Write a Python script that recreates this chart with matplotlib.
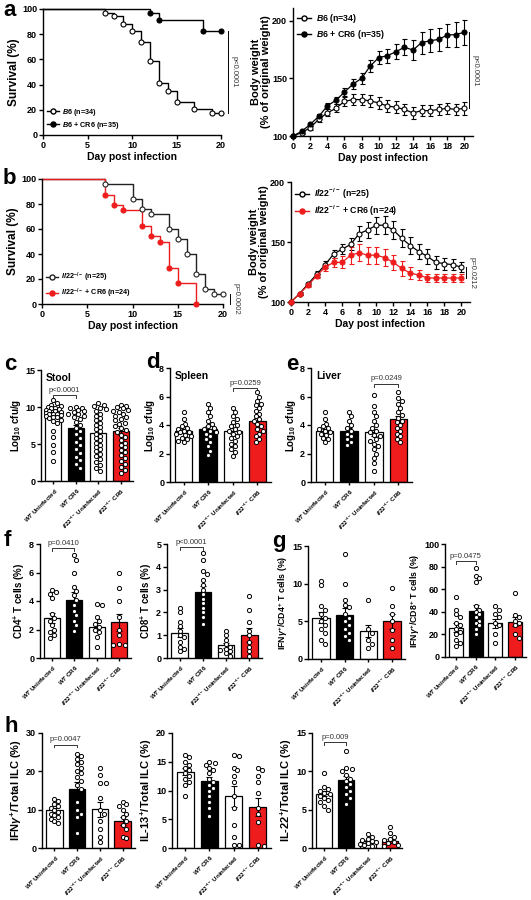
import numpy as np
import matplotlib
matplotlib.use('Agg')
import matplotlib.pyplot as plt
from matplotlib.lines import Line2D

plt.rcParams.update({
    'font.family': ['Liberation Sans', 'DejaVu Sans'],
    'font.weight': 'bold',
    'axes.labelweight': 'bold',
    'mathtext.fontset': 'custom',
    'mathtext.rm': 'Liberation Sans:bold',
    'mathtext.it': 'Liberation Sans:italic:bold',
    'mathtext.bf': 'Liberation Sans:bold',
    'mathtext.sf': 'Liberation Sans:bold',
    'axes.linewidth': 1.0,
    'xtick.major.width': 1.0, 'ytick.major.width': 1.0,
    'xtick.major.size': 3, 'ytick.major.size': 3,
    'xtick.labelsize': 6.5, 'ytick.labelsize': 6.5,
    'xtick.major.pad': 1.5, 'ytick.major.pad': 1.2,
    'axes.labelpad': 1.5,
})

# ---------------- data ----------------
# a: survival
surv_a_b6_days = [0, 7, 8, 9, 10, 11, 12, 13, 14, 15, 17, 19, 20]
surv_a_b6 = [100, 97.1, 94.1, 88.2, 82.4, 73.5, 58.8, 41.2, 35.3, 26.5, 20.6, 17.6, 17.6]
surv_a_cr6_days = [0, 12, 13, 18, 20]
surv_a_cr6 = [100, 97.1, 91.4, 82.9, 82.9]
# a: body weight
days = list(range(21))
bw_a_b6 = [100, 103, 107, 114.5, 120, 124, 130, 131.6, 131.6, 130.4, 128.7, 126, 125, 123, 120, 122, 122, 123, 124, 123, 124]
bw_a_b6_sem = [0, 1, 1.5, 2, 3, 3.5, 4, 4.5, 5, 5, 5, 5, 5, 5, 5, 5, 5, 5, 5, 5, 5.5]
bw_a_cr6 = [100, 104, 110, 117, 126, 131, 138, 145, 150, 160.6, 168, 169.6, 173, 177, 174.5, 181, 182.6, 183.8, 187.5, 188, 190]
bw_a_cr6_sem = [0, 1, 1.5, 2, 2.5, 3, 3.5, 4, 5, 5, 5.5, 6, 6.5, 7, 9, 9.5, 10, 10, 10, 11, 11]
# b: survival
surv_b_il_days = [0, 7, 10, 11, 12, 14, 15, 16, 17, 18, 19, 20]
surv_b_il = [100, 96, 84, 76, 72, 60, 52, 40, 24, 12, 8, 8]
surv_b_cr6_days = [0, 7, 8, 9, 11, 12, 13, 14, 15, 17]
surv_b_cr6 = [100, 87.5, 79.2, 75, 62.5, 54.2, 50, 29.2, 16.7, 0]
# b: body weight
bw_b_il = [100, 107, 115, 123, 131, 140, 144, 148, 157, 160, 164, 164, 160, 153, 147, 142, 138, 133, 132, 131, 129]
bw_b_il_sem = [0, 1, 1.5, 2.5, 3, 3.5, 4, 5, 6, 6.5, 7, 7.5, 7.5, 7.5, 7, 6.5, 6, 5.5, 5, 4.5, 4]
bw_b_cr6 = [100, 106.7, 114, 121.7, 129, 133, 133, 139, 141, 139, 139, 137, 133, 128, 124, 122.5, 120, 120, 120, 120, 120]
bw_b_cr6_sem = [0, 1, 1.5, 2, 3, 4, 5, 7, 7, 7, 7, 7, 6.5, 6, 5, 4, 3, 3, 3, 3, 3]

groups = [r'$\it{WT}$ Uninfected', r'$\it{WT}$ CR6',
          r'$\it{Il22}^{-/-}$ Uninfected', r'$\it{Il22}^{-/-}$ CR6']

c_means = [9.0, 7.1, 6.5, 6.7]; c_sems = [0.3, 0.45, 0.45, 0.45]
c_pts = [[11.0, 10.5, 10.3, 10.1, 10.0, 9.9, 9.8, 9.7, 9.6, 9.5, 9.4, 9.3, 9.2, 9.1, 9.0, 9.0, 8.9, 8.8, 8.7, 8.6, 8.5, 8.3, 8.1, 7.8, 6.8, 5.9, 4.9, 3.9, 2.7],
         [10.0, 9.9, 9.8, 9.6, 9.4, 9.3, 9.1, 9.0, 8.8, 8.6, 8.4, 8.0, 7.6, 7.2, 6.8, 6.3, 5.8, 5.3, 4.8, 4.3, 3.8, 3.3, 2.8, 2.3, 1.8],
         [10.5, 10.3, 10.1, 9.9, 9.7, 9.4, 9.1, 8.8, 8.5, 8.2, 7.9, 7.6, 7.3, 7.0, 6.7, 6.4, 6.1, 5.8, 5.5, 5.2, 4.9, 4.6, 4.3, 4.0, 3.7, 3.4, 3.0, 2.6, 2.2, 1.8, 1.4],
         [10.3, 10.2, 10.0, 9.8, 9.6, 9.5, 9.3, 9.0, 8.8, 8.7, 8.4, 8.2, 7.9, 7.7, 7.4, 7.1, 6.9, 6.6, 6.2, 5.9, 5.5, 5.2, 4.9, 4.6, 4.2, 3.9, 3.5, 3.1, 2.7, 2.3, 1.9, 1.5, 1.1]]
d_means = [3.6, 3.7, 3.6, 4.3]; d_sems = [0.15, 0.2, 0.2, 0.2]
d_pts = [[4.9, 4.4, 4.1, 3.9, 3.8, 3.7, 3.6, 3.5, 3.5, 3.4, 3.3, 3.2, 3.1, 3.0, 2.9, 2.8],
         [5.5, 5.2, 4.9, 4.6, 4.3, 4.1, 3.9, 3.8, 3.7, 3.6, 3.5, 3.4, 3.2, 3.0, 2.8, 2.5, 2.2, 1.9],
         [5.2, 4.9, 4.6, 4.4, 4.2, 4.0, 3.9, 3.7, 3.6, 3.5, 3.4, 3.2, 3.1, 2.9, 2.7, 2.5, 2.3, 2.1, 1.8],
         [6.3, 6.0, 5.7, 5.5, 5.4, 5.2, 5.0, 4.8, 4.6, 4.4, 4.3, 4.1, 3.9, 3.7, 3.6, 3.4, 3.2, 3.0, 2.8]]
e_means = [3.6, 3.6, 3.5, 4.4]; e_sems = [0.15, 0.2, 0.25, 0.2]
e_pts = [[4.9, 4.4, 4.1, 3.9, 3.8, 3.7, 3.6, 3.5, 3.4, 3.3, 3.1, 3.0, 2.8],
         [4.9, 4.6, 4.3, 4.0, 3.8, 3.6, 3.4, 3.2, 3.0, 2.8, 2.6],
         [6.1, 5.3, 4.9, 4.6, 4.3, 4.0, 3.8, 3.6, 3.5, 3.3, 3.2, 3.0, 2.9, 2.7, 2.5, 2.3, 2.0, 1.7, 1.3, 0.8],
         [6.3, 5.9, 5.7, 5.5, 5.2, 4.9, 4.7, 4.5, 4.3, 4.2, 4.0, 3.8, 3.6, 3.4, 3.2, 3.0, 2.8]]
f1_means = [2.8, 4.1, 2.2, 2.5]; f1_sems = [0.35, 0.5, 0.28, 0.6]
f1_pts = [[4.8, 4.6, 4.5, 4.2, 3.1, 2.8, 2.6, 2.3, 2.0, 1.8, 1.6, 1.4],
          [7.2, 6.9, 6.0, 5.0, 4.7, 4.4, 4.1, 3.7, 3.3, 3.0, 2.6, 2.3, 1.9],
          [3.8, 3.7, 2.9, 2.6, 2.4, 2.2, 2.0, 1.8, 1.5, 0.8],
          [6.0, 4.9, 4.0, 2.9, 2.0, 1.6, 1.0, 0.9, 0.9]]
f2_means = [1.1, 2.9, 0.55, 1.0]; f2_sems = [0.2, 0.25, 0.12, 0.3]
f2_pts = [[2.2, 2.0, 1.6, 1.4, 1.2, 1.0, 0.9, 0.7, 0.5, 0.4, 0.3],
          [4.6, 4.3, 3.8, 3.7, 3.4, 3.2, 3.0, 2.8, 2.6, 2.4, 2.2, 2.0, 1.8, 1.5],
          [1.2, 1.0, 0.8, 0.6, 0.5, 0.4, 0.35, 0.3, 0.2, 0.1],
          [2.7, 2.1, 1.6, 1.2, 1.0, 0.7, 0.5, 0.3, 0.1]]
g1_means = [5.5, 5.9, 3.7, 5.0]; g1_sems = [0.7, 0.9, 0.8, 1.0]
g1_pts = [[10.4, 9.8, 7.0, 6.5, 6.0, 5.5, 5.0, 4.5, 4.0, 3.5, 2.5, 2.0],
          [14.0, 10.0, 7.8, 7.2, 6.9, 6.0, 5.5, 5.0, 4.5, 4.0, 3.5, 3.0, 2.5],
          [7.8, 4.0, 3.5, 2.5, 2.0, 1.5],
          [9.4, 7.0, 6.0, 5.0, 3.8, 2.5, 1.5]]
g2_means = [26, 41, 30, 31]; g2_sems = [4, 5, 4, 4]
g2_pts = [[53, 42, 38, 35, 30, 28, 25, 22, 20, 15, 12, 10],
          [79, 72, 70, 66, 45, 42, 40, 38, 35, 32, 30, 28, 25, 20],
          [45, 42, 38, 35, 30, 28, 20, 12],
          [57, 37, 35, 32, 30, 28, 20, 17]]
h1_means = [9.8, 15.4, 10.1, 7.0]; h1_sems = [0.7, 1.8, 2.0, 1.1]
h1_pts = [[12.8, 12.2, 11.5, 11.0, 10.5, 10.0, 9.5, 9.0, 8.5, 8.0, 7.5, 7.0, 6.5],
          [24.5, 24.0, 23.2, 22.5, 22.0, 21.0, 20.0, 19.5, 18.5, 17.5, 16.5, 15.5, 12.0, 10.0, 9.0, 8.0, 4.0],
          [21.0, 19.0, 17.0, 17.0, 13.0, 10.0, 9.0, 7.0, 5.0, 3.0, 1.5],
          [12.0, 11.5, 11.0, 10.0, 9.0, 8.0, 7.0, 6.0, 5.0, 3.0, 2.5]]
h2_means = [13.3, 11.7, 9.0, 7.1]; h2_sems = [0.6, 0.7, 1.8, 1.6]
h2_pts = [[16.2, 15.8, 15.0, 14.5, 14.0, 13.5, 13.0, 12.5, 12.0, 11.5, 11.0, 9.0],
          [15.0, 14.8, 14.5, 14.0, 13.5, 13.0, 12.0, 11.5, 11.0, 10.5, 10.0, 9.0, 8.0, 7.0, 5.5],
          [16.2, 16.0, 14.0, 13.5, 12.5, 11.5, 9.0, 7.0, 4.0, 2.0, 0.5, 0.5],
          [14.0, 13.5, 12.5, 11.5, 9.5, 7.0, 6.0, 4.5, 0.5, 0.3]]
h3_means = [7.1, 8.9, 0.9, 0.9]; h3_sems = [0.35, 0.5, 0.15, 0.25]
h3_pts = [[9.8, 8.0, 7.7, 7.5, 7.2, 7.0, 6.8, 6.5, 6.2, 6.0, 5.5, 5.0],
          [12.7, 10.5, 10.3, 10.0, 9.5, 9.0, 8.7, 8.3, 8.0, 7.5, 7.0, 6.5, 5.8],
          [1.8, 1.5, 1.2, 1.0, 0.9, 0.8, 0.6, 0.5, 0.4, 0.3],
          [2.7, 2.0, 1.5, 1.2, 1.0, 0.8, 0.6, 0.4, 0.3]]

RED = '#ee1c1c'
bar_colors = ['white', 'black', 'white', RED]

# ---------------- figure ----------------
W, H = 531, 900
fig = plt.figure(figsize=(W / 100, H / 100), dpi=100)


def px_axes(l, t, r, b):
    ax = fig.add_axes([l / W, 1 - b / H, (r - l) / W, (b - t) / H])
    ax.spines['top'].set_visible(False)
    ax.spines['right'].set_visible(False)
    return ax


def letter(x, y, s):
    fig.text(x / W, 1 - y / H, s, fontsize=16, fontweight='bold', va='center', ha='left')


def ptext(ax, x, y, s, **kw):
    ax.text(x, y, s, fontsize=5.5, fontweight='normal', color='#333333', clip_on=False, **kw)


def survival(ax, d1, s1, c1, mf1, d2, s2, c2, mf2, labels, pstr, py):
    for d, s, c, mf in ((d1, s1, c1, mf1), (d2, s2, c2, mf2)):
        ax.step(d, s, where='post', color=c, lw=1.0, clip_on=False, zorder=2)
        ax.plot(d[1:], s[1:], 'o', ms=3.6, mfc=mf, mec=c, mew=0.8, clip_on=False, zorder=3)
    ax.set_xlim(0, 20)
    ax.set_ylim(0, 100)
    ax.set_xticks([0, 5, 10, 15, 20])
    ax.set_yticks([0, 20, 40, 60, 80, 100])
    ax.set_xlabel('Day post infection', fontsize=7.5)
    ax.set_ylabel('Survival (%)', fontsize=8.5)
    hs = [Line2D([], [], color=c1, marker='o', mfc=mf1, mec=c1, ms=3.6, lw=1.0),
          Line2D([], [], color=c2, marker='o', mfc=mf2, mec=c2, ms=3.6, lw=1.0)]
    ax.legend(hs, labels, loc='lower left', fontsize=5.2, frameon=False, handlelength=1.6,
              handletextpad=0.5, borderaxespad=0.2, labelspacing=0.3)
    ax.plot([20.8, 20.8], py, color='black', lw=0.7, clip_on=False)
    ptext(ax, 21.1, np.mean(py), pstr, rotation=-90, va='center', ha='left')


def weight(ax, m1, e1, c1, mf1, m2, e2, c2, mf2, labels, ylim, pstr, py):
    for m, e, c, mf in ((m1, e1, c1, mf1), (m2, e2, c2, mf2)):
        ax.errorbar(days, m, yerr=e, color=c, lw=0.9, elinewidth=0.8, capsize=1.8, capthick=0.8,
                    marker='o', ms=3.6, mfc=mf, mec=c, mew=0.8, clip_on=False, zorder=3)
    ax.set_xlim(0, 21)
    ax.set_ylim(*ylim)
    ax.set_xticks(range(0, 21, 2))
    ax.set_yticks([100, 150, 200])
    ax.set_xlabel('Day post infection', fontsize=7.5)
    ax.set_ylabel('Body weight\n(% of original weight)', fontsize=8, linespacing=1.0, labelpad=0.5)
    hs = [Line2D([], [], color=c1, marker='o', mfc=mf1, mec=c1, ms=3.6, lw=1.0),
          Line2D([], [], color=c2, marker='o', mfc=mf2, mec=c2, ms=3.6, lw=1.0)]
    ax.legend(hs, labels, loc='upper left', fontsize=6.3, frameon=False, handlelength=1.6,
              handletextpad=0.5, borderaxespad=0.1, labelspacing=0.3)
    ax.plot([20.5, 20.5], py, color='black', lw=0.7, clip_on=False)
    ptext(ax, 20.8, np.mean(py), pstr, rotation=-90, va='center', ha='left')


def swarm(ax, x0, ys, d_px, maxw_px):
    placed = []
    xs = []
    inv = ax.transData.inverted()
    for y in ys:
        cx, cy = ax.transData.transform((x0, y))
        best, bestd = cx, -1
        for k in range(0, 60):
            off = ((k + 1) // 2) * 0.45 * d_px * (1 if k % 2 else -1)
            if abs(off) > maxw_px:
                continue
            cand = cx + off
            md = min([np.hypot(cand - qx, cy - qy) for qx, qy in placed] + [1e9])
            if md >= d_px:
                best, bestd = cand, md
                break
            if md > bestd:
                best, bestd = cand, md
        placed.append((best, cy))
        xs.append(inv.transform((best, cy))[0])
    return xs


def bars(ax, means, sems, pts, ylim, yticks, ylabel, pos=(0, 1, 2, 3), xlim=(-0.55, 3.55),
         title=None, pval=None, ylfs=7, width=0.72):
    ax.set_xlim(*xlim)
    ax.set_ylim(*ylim)
    for i, p in enumerate(pos):
        ax.bar(p, means[i], width=width, color=bar_colors[i], edgecolor='black', lw=0.9, zorder=1)
    for i, p in enumerate(pos):
        ax.errorbar(p, means[i], yerr=sems[i], color='black', lw=0.8, capsize=2.2, capthick=0.8, zorder=2)
    for i, p in enumerate(pos):
        xs = swarm(ax, p, pts[i], 4.3, 9.5)
        ax.scatter(xs, pts[i], s=9, facecolor='white', edgecolor='black', lw=0.7, zorder=3, clip_on=False)
    ax.set_yticks(yticks)
    ax.set_xticks(pos)
    ax.set_xticklabels(groups, rotation=45, ha='right', rotation_mode='anchor', fontsize=4.4)
    ax.tick_params(axis='x', length=2.5, pad=1.5)
    ax.set_ylabel(ylabel, fontsize=ylfs)
    if title:
        ax.text(0.05, 0.97, title, transform=ax.transAxes, fontsize=7.5, fontweight='bold', va='top')
    if pval:
        (a, b), y, s = pval
        dy = (ylim[1] - ylim[0]) * 0.025
        ax.plot([pos[a], pos[a], pos[b], pos[b]], [y - dy, y, y, y - dy], color='#333333', lw=0.7, clip_on=False)
        ptext(ax, (pos[a] + pos[b]) / 2, y + dy * 0.5, s, ha='center', va='bottom')


# a
axa1 = px_axes(43, 9, 221, 135)
survival(axa1, surv_a_b6_days, surv_a_b6, 'black', 'white', surv_a_cr6_days, surv_a_cr6, 'black', 'black',
         [r'$\it{B6}$ (n=34)', r'$\it{B6}$ + CR6 (n=35)'], 'p<0.0001', [82.9, 17.6])
axa2 = px_axes(293, 8, 473, 136)
weight(axa2, bw_a_b6, bw_a_b6_sem, 'black', 'white', bw_a_cr6, bw_a_cr6_sem, 'black', 'black',
       [r'$\it{B6}$ (n=34)', r'$\it{B6}$ + CR6 (n=35)'], (100, 211), 'p<0.0001', [190, 124])
# b
axb1 = px_axes(42, 179, 223, 304)
survival(axb1, surv_b_il_days, surv_b_il, '#222222', 'white', surv_b_cr6_days, surv_b_cr6, RED, RED,
         [r'$\it{Il22}^{-/-}$ (n=25)', r'$\it{Il22}^{-/-}$ + CR6 (n=24)'], 'p=0.0002', [8, 0])
axb2 = px_axes(291, 182, 470, 302)
weight(axb2, bw_b_il, bw_b_il_sem, 'black', 'white', bw_b_cr6, bw_b_cr6_sem, RED, RED,
       [r'$\it{Il22}^{-/-}$ (n=25)', r'$\it{Il22}^{-/-}$ + CR6 (n=24)'], (100, 200), 'p=0.0212', [129, 120])

# c d e
axc = px_axes(41, 370, 133, 481)
bars(axc, c_means, c_sems, c_pts, (0, 15), [0, 5, 10, 15], r'Log$_{10}$ cfu/g', title='Stool',
     pval=((0, 1), 11.6, 'p<0.0001'))
axd = px_axes(170, 368, 271, 482)
bars(axd, d_means, d_sems, d_pts, (0, 8), [0, 2, 4, 6, 8], r'Log$_{10}$ cfu/g', title='Spleen',
     pval=((2, 3), 6.6, 'p=0.0259'))
axe = px_axes(311, 368, 412, 482)
bars(axe, e_means, e_sems, e_pts, (0, 8), [0, 2, 4, 6, 8], r'Log$_{10}$ cfu/g', title='Liver',
     pval=((2, 3), 6.9, 'p=0.0249'))

# f g
axf1 = px_axes(40, 544, 131, 658)
bars(axf1, f1_means, f1_sems, f1_pts, (0, 8), [0, 2, 4, 6, 8], r'CD4$^{+}$ T cells (%)',
     pval=((0, 1), 7.7, 'p=0.0410'))
axf2 = px_axes(167, 544, 262, 658)
bars(axf2, f2_means, f2_sems, f2_pts, (0, 5), [0, 1, 2, 3, 4, 5], r'CD8$^{+}$ T cells (%)',
     pval=((0, 1), 4.85, 'p<0.0001'))
axg1 = px_axes(308, 546, 405, 659)
bars(axg1, g1_means, g1_sems, g1_pts, (0, 15), [0, 5, 10, 15], r'IFN$\gamma^{+}$/CD4$^{+}$ T cells (%)', ylfs=6.3)
axg2 = px_axes(445, 544, 526, 657)
bars(axg2, g2_means, g2_sems, g2_pts, (0, 100), [0, 20, 40, 60, 80, 100], r'IFN$\gamma^{+}$/CD8$^{+}$ T cells (%)',
     pval=((0, 1), 85, 'p=0.0475'), ylfs=6.3)

# h
axh1 = px_axes(42, 733, 135, 848)
bars(axh1, h1_means, h1_sems, h1_pts, (0, 30), [0, 10, 20, 30], r'IFN$\gamma^{+}$/Total ILC (%)',
     pval=((0, 1), 27, 'p=0.0047'), ylfs=8)
axh2 = px_axes(172, 733, 271, 848)
bars(axh2, h2_means, h2_sems, h2_pts, (0, 20), [0, 5, 10, 15, 20], r'IL-13$^{+}$/Total ILC (%)', ylfs=8)
axh3 = px_axes(312, 733, 402, 848)
bars(axh3, h3_means, h3_sems, h3_pts, (0, 15), [0, 5, 10, 15], r'IL-22$^{+}$/Total ILC (%)',
     pval=((0, 1), 13.8, 'p=0.009'), ylfs=8)

letter(3, 10, 'a')
letter(3, 178, 'b')
letter(4, 365, 'c')
letter(146, 363, 'd')
letter(286, 365, 'e')
letter(4, 540, 'f')
letter(272, 541, 'g')
letter(4, 726, 'h')

fig.savefig('out.png', dpi=100)
